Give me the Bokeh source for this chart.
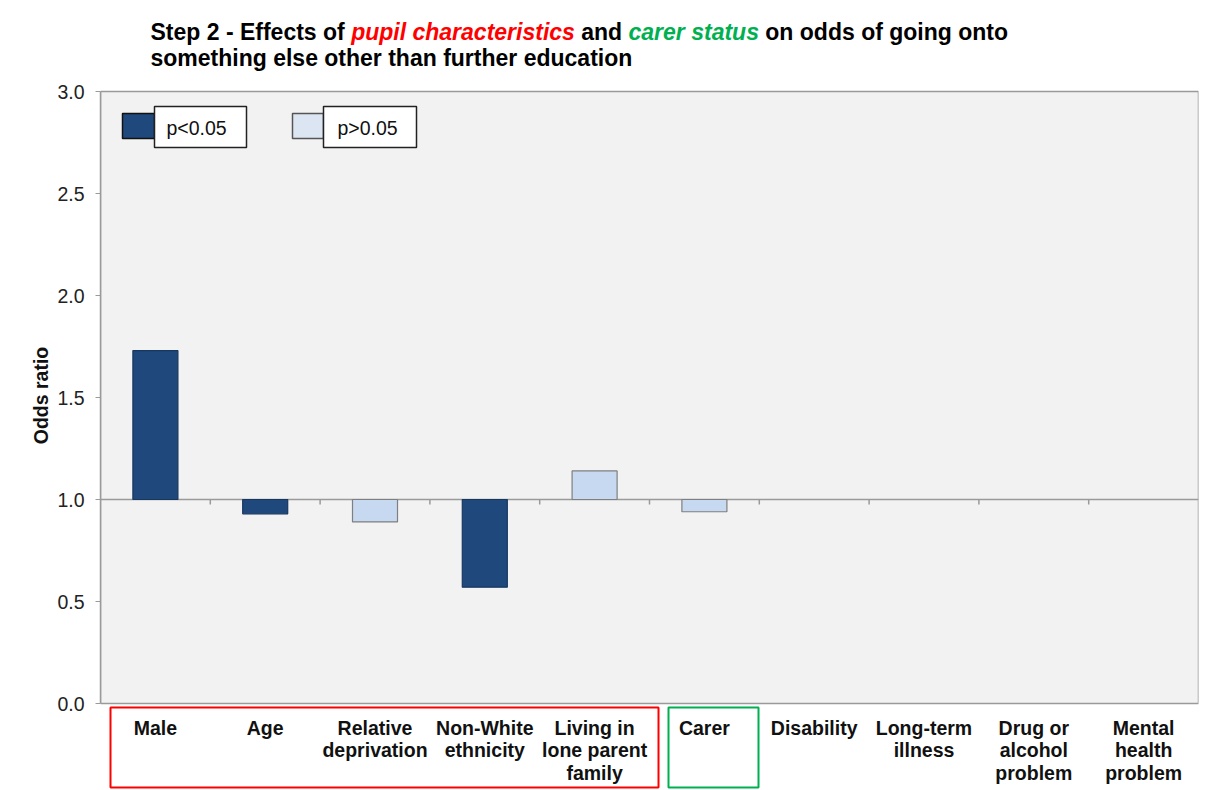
from bokeh.plotting import figure
from bokeh.models import Range1d, FixedTicker, CustomJSTickFormatter, ColumnDataSource
from bokeh.core.properties import value
from bokeh.embed import file_html
from bokeh.resources import INLINE

# ---------------- data ----------------
categories = ["Male", "Age", "Relative\ndeprivation", "Non-White\nethnicity",
              "Living in\nlone parent\nfamily", "Carer", "Disability",
              "Long-term\nillness", "Drug or\nalcohol\nproblem", "Mental\nhealth\nproblem"]
odds_ratio = [1.73, 0.93, 0.89, 0.57, 1.14, 0.94, None, None, None, None]
significant = [True, True, False, True, False, False, None, None, None, None]
y_ticks = [0.0, 0.5, 1.0, 1.5, 2.0, 2.5, 3.0]
legend_labels = ["p<0.05", "p>0.05"]
title_line1 = [("Step 2 - Effects of", "black", "bold"),
               ("pupil characteristics", "#FF0000", "bold italic"),
               ("and", "black", "bold"),
               ("carer status", "#00B050", "bold italic"),
               ("on odds of going onto", "black", "bold")]
title_line2 = "something else other than further education"

# ---------------- layout helpers (reference pixel -> data) ----------------
FRAME_L, FRAME_R = 100.0, 1198.0      # page px of x = 0 and x = N
ZERO_Y, PX_PER_UNIT_Y = 703.0, 204.0  # page px of y = 0, px per odds unit
N = len(categories)
PX_PER_UNIT_X = (FRAME_R - FRAME_L) / N
W, H = 1210, 790


def dx(px):
    return (px - FRAME_L) / PX_PER_UNIT_X


def dy(py):
    return (ZERO_Y - py) / PX_PER_UNIT_Y


Y_LO, Y_HI = dy(H), dy(0)
FONT = value("Liberation Sans")
DARK, DARK_LINE = "#1F497D", "#17375E"
LIGHT, LIGHT_LINE = "#C6D9F1", "#7F7F7F"
GRAYLINE = "#9A9A9A"

p = figure(width=W, height=H, x_range=Range1d(0, N), y_range=Range1d(Y_LO, Y_HI),
           output_backend="svg", toolbar_location=None, x_axis_location=None,
           min_border_left=int(FRAME_L), min_border_right=int(W - FRAME_R),
           min_border_top=0, min_border_bottom=0, title=None)
p.outline_line_color = None
p.grid.visible = False
p.background_fill_color = "white"
p.border_fill_color = "white"

# plot area
p.quad(left=[0], right=[N], bottom=[y_ticks[0]], top=[y_ticks[-1]],
       fill_color="#F2F2F2", line_color=GRAYLINE, line_width=1.5)

# y axis
ax = p.yaxis[0]
ax.bounds = (y_ticks[0], y_ticks[-1])
ax.ticker = FixedTicker(ticks=y_ticks)
ax.formatter = CustomJSTickFormatter(code="return tick.toFixed(1);")
ax.axis_line_color = GRAYLINE
ax.axis_line_width = 1.5
ax.major_tick_line_color = GRAYLINE
ax.major_tick_out = 5
ax.major_tick_in = 0
ax.minor_tick_line_color = None
ax.major_label_standoff = 11
ax.major_label_text_font = "Liberation Sans"
ax.major_label_text_font_size = "19.5px"
ax.major_label_text_color = "#222222"
ax.axis_label = "Odds ratio"
ax.axis_label_text_font = "Liberation Sans"
ax.axis_label_text_font_style = "bold"
ax.axis_label_text_font_size = "19.5px"
ax.axis_label_text_color = "#111111"
ax.axis_label_standoff = 2

# reference line at 1.0 with category separators
baseline = 1.0
p.segment(x0=[0], x1=[N], y0=[baseline], y1=[baseline], line_color=GRAYLINE, line_width=1.5)
bounds_x = list(range(1, N))
p.segment(x0=bounds_x, x1=bounds_x, y0=[baseline] * len(bounds_x),
          y1=[baseline - 5 / PX_PER_UNIT_Y] * len(bounds_x), line_color=GRAYLINE, line_width=1.5)

# bars
xs, tops, fills, lines = [], [], [], []
for i, (v, s) in enumerate(zip(odds_ratio, significant)):
    if v is None:
        continue
    xs.append(i + 0.5)
    tops.append(v)
    fills.append(DARK if s else LIGHT)
    lines.append(DARK_LINE if s else LIGHT_LINE)
src = ColumnDataSource(dict(x=xs, top=tops, fill=fills, line=lines))
p.vbar(x="x", width=0.41, bottom=baseline, top="top", fill_color="fill",
       line_color="line", line_width=1.2, source=src)

# category labels
p.text(x=[i + 0.5 for i in range(N)], y=[dy(716)] * N, text=categories,
       text_font=FONT, text_font_style="bold", text_font_size="19.5px",
       text_color="#111111", text_align="center", text_baseline="top",
       text_line_height=1.03)

# group boxes
p.quad(left=[dx(110)], right=[dx(658)], top=[dy(707)], bottom=[dy(787)],
       fill_color=None, line_color="#FF0000", line_width=2)
p.quad(left=[dx(668)], right=[dx(758)], top=[dy(707)], bottom=[dy(787)],
       fill_color=None, line_color="#00B050", line_width=2)

# legend
sq_l = [dx(122), dx(292)]
sq_r = [dx(154), dx(323)]
p.quad(left=sq_l, right=sq_r, top=[dy(113)] * 2, bottom=[dy(138)] * 2,
       fill_color=[DARK, "#DCE6F2"], line_color=["#111111", "#555555"], line_width=1.5)
p.quad(left=sq_r, right=[dx(246), dx(416)], top=[dy(106)] * 2, bottom=[dy(147)] * 2,
       fill_color="white", line_color="#222222", line_width=1.5)
p.text(x=[dx(166), dx(337)], y=[dy(127)] * 2, text=legend_labels,
       text_font=FONT, text_font_size="19.5px", text_color="#111111",
       text_baseline="middle", text_align="left")

# title (rich text in segments; word starts in px from the title's left edge)
seg_offsets_px = [0.0, 200.65, 430.74, 478.03, 614.81]
for (txt, col, style), off in zip(title_line1, seg_offsets_px):
    p.text(x=[dx(150 + off)], y=[dy(31)], text=[txt], text_font=FONT,
           text_font_style=style, text_font_size="23px", text_color=col,
           text_baseline="middle", text_align="left")
p.text(x=[dx(150)], y=[dy(57)], text=[title_line2], text_font=FONT,
       text_font_style="bold", text_font_size="23px", text_color="black",
       text_baseline="middle", text_align="left")

open("out.html", "w").write(file_html(p, INLINE))
